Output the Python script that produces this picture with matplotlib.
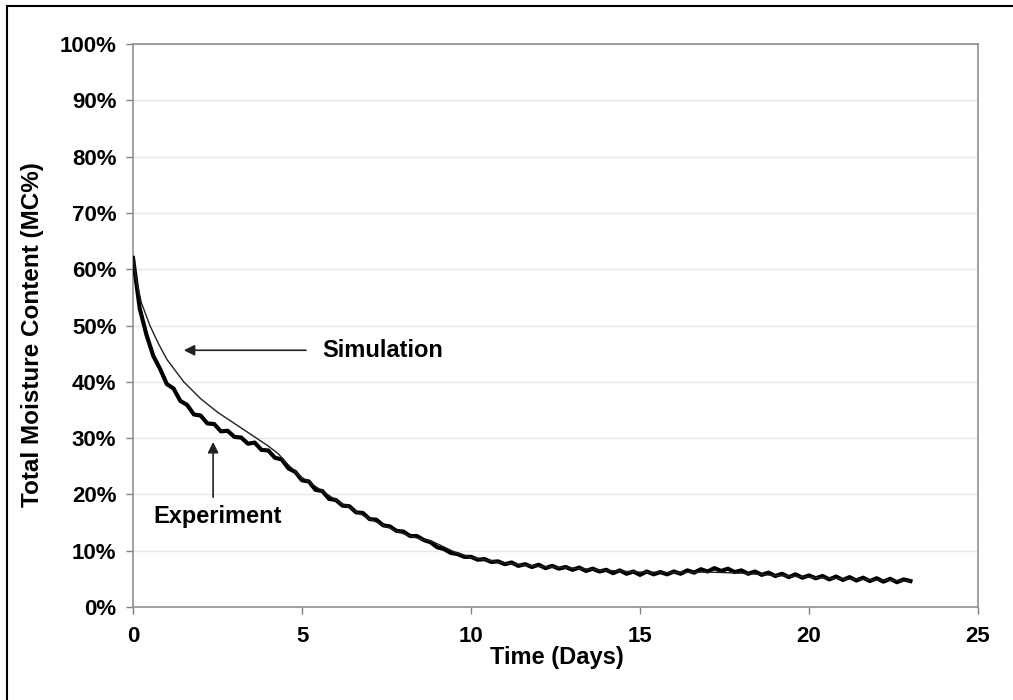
import numpy as np
import matplotlib.pyplot as plt
from matplotlib.patches import Rectangle

# simulation curve (days, MC%)
sim_days = [0, 0.1, 0.25, 0.5, 0.75, 1.0, 1.5, 2.0, 2.5, 3.0, 3.5, 4.0, 4.3,
            4.6, 5.0, 6.0, 7.0, 8.0, 8.6, 8.8, 9.5, 10, 11, 12, 13, 14, 15,
            16, 17, 18, 19, 20, 21, 22, 23]
sim_mc = [62, 58, 54, 50, 46.8, 44, 40, 37, 34.6, 32.6, 30.6, 28.6, 27.2,
          25.2, 23, 19, 15.6, 13, 11.9, 11.8, 9.8, 8.8, 7.8, 7.2, 6.9, 6.5,
          6.2, 6.1, 6.2, 6.0, 5.6, 5.3, 5.0, 4.8, 4.6]

# experiment, sampled every 0.2 days from day 0 to day 23
exp_mc = [62.0, 53.0, 48.3, 44.6, 42.3, 39.6, 38.8, 36.6, 35.9, 34.2,
          34.0, 32.6, 32.5, 31.2, 31.3, 30.2, 30.1, 29.0, 29.2, 27.9,
          27.8, 26.5, 26.2, 24.6, 24.0, 22.5, 22.3, 20.8, 20.6, 19.2,
          19.0, 18.0, 17.9, 16.8, 16.7, 15.6, 15.5, 14.5, 14.3, 13.5,
          13.4, 12.6, 12.6, 11.9, 11.5, 10.6, 10.3, 9.6, 9.4, 8.9,
          8.9, 8.4, 8.5, 8.0, 8.1, 7.6, 7.9, 7.3, 7.6, 7.1,
          7.5, 6.9, 7.3, 6.8, 7.1, 6.6, 7.0, 6.4, 6.8, 6.3,
          6.6, 6.0, 6.5, 5.9, 6.3, 5.7, 6.3, 5.8, 6.2, 5.8,
          6.3, 5.9, 6.5, 6.1, 6.7, 6.3, 6.9, 6.4, 6.8, 6.2,
          6.5, 5.9, 6.3, 5.7, 6.1, 5.5, 5.9, 5.3, 5.8, 5.2,
          5.6, 5.1, 5.5, 4.9, 5.4, 4.8, 5.3, 4.7, 5.2, 4.6,
          5.1, 4.5, 5.0, 4.4, 4.9, 4.6]
exp_days = np.arange(len(exp_mc)) * 0.2

x_ticks = [0, 5, 10, 15, 20, 25]
y_ticks = list(range(0, 101, 10))

plt.rcParams['font.family'] = ['Liberation Sans', 'DejaVu Sans']
plt.rcParams['font.weight'] = 'bold'

fig = plt.figure(figsize=(10.13, 7.0), dpi=100)
ax = fig.add_axes([0.1313, 0.1329, 0.8342, 0.8042])

ax.plot(exp_days, exp_mc, color='black', lw=3.0, zorder=3)
ax.plot(sim_days, sim_mc, color='#202020', lw=1.0, zorder=4)

ax.set_xlim(0, 25)
ax.set_ylim(0, 100)
ax.set_xticks(x_ticks)
ax.set_yticks(y_ticks)
ax.set_yticklabels([f'{v}%' for v in y_ticks])
ax.tick_params(labelsize=16, color='#808080', length=5, width=1)
ax.tick_params(axis='y', pad=7)
ax.tick_params(axis='x', pad=9)
ax.grid(axis='y', color='#e6e6e6', lw=1)
ax.set_axisbelow(True)
for sp in ax.spines.values():
    sp.set_color('#909090')
    sp.set_linewidth(1.2)

ax.set_xlabel('Time (Days)', fontsize=17, fontweight='bold')
ax.set_ylabel('Total Moisture Content (MC%)', fontsize=17.5, fontweight='bold')
ax.xaxis.set_label_coords(0.502, -0.07)
ax.yaxis.set_label_coords(-0.105, 0.484)

ax.annotate('', xy=(1.42, 45.6), xytext=(5.2, 45.6),
            arrowprops=dict(arrowstyle='-|>', color='#222222', lw=1.2,
                            mutation_scale=16))
ax.text(5.6, 45.6, 'Simulation', fontsize=17, fontweight='bold',
        va='center', ha='left')
ax.annotate('', xy=(2.37, 29.8), xytext=(2.37, 19.0),
            arrowprops=dict(arrowstyle='-|>', color='#222222', lw=1.2,
                            mutation_scale=16))
ax.text(2.49, 16.0, 'Experiment', fontsize=17, fontweight='bold',
        va='center', ha='center')

fig.patches.append(Rectangle((0.007, -0.01), 1.0, 1.001, transform=fig.transFigure,
                             fill=False, edgecolor='black', lw=1.5))

fig.savefig('out.png', dpi=100)
